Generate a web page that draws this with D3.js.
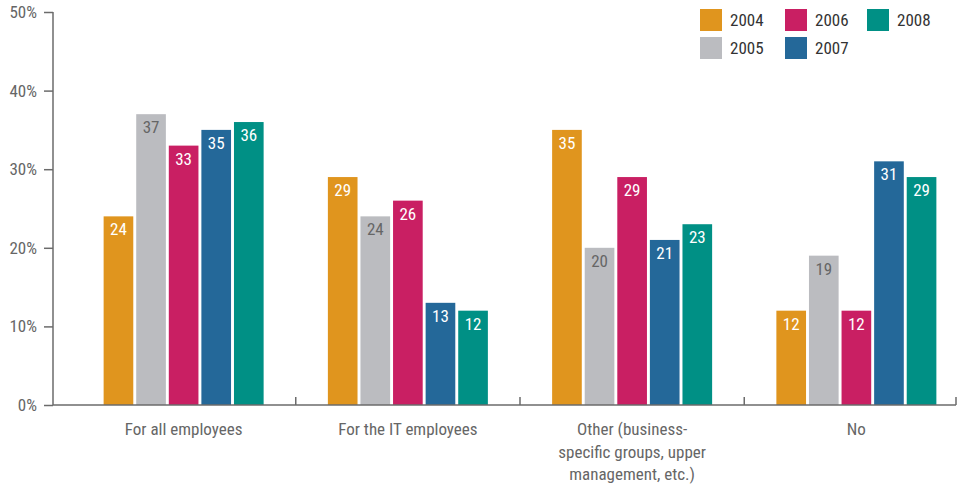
<!DOCTYPE html>
<html>
<head>
<meta charset="utf-8">
<script src="https://cdn.jsdelivr.net/npm/d3@7"></script>
<style>
  html, body { margin: 0; padding: 0; background: #fff; }
  svg text { font-family: "Liberation Sans Narrow", "Roboto Condensed", "Arial Narrow", "Liberation Sans", sans-serif; }
</style>
</head>
<body>
<svg id="chart" width="962" height="485"></svg>
<script>
// Categories (x groups) and years (series)
const categories = [
  ["For all employees"],
  ["For the IT employees"],
  ["Other (business-", "specific groups, upper", "management, etc.)"],
  ["No"]
];
const years = ["2004", "2005", "2006", "2007", "2008"];
const colors = ["#E0951E", "#BBBCC0", "#C91F63", "#246899", "#009085"];

// Percent values per year, one entry per category
const v2004 = [24, 29, 35, 12];
const v2005 = [37, 24, 20, 19];
const v2006 = [33, 26, 29, 12];
const v2007 = [35, 13, 21, 31];
const v2008 = [36, 12, 23, 29];
const series = [v2004, v2005, v2006, v2007, v2008];

const yTicks = [0, 10, 20, 30, 40, 50];

const svg = d3.select("#chart");
const axisColor = "#6b6b6b";
const textColor = "#666";

const y = d3.scaleLinear().domain([0, 50]).range([405, 12]);
const x0 = d3.scaleBand().domain(d3.range(categories.length)).range([71.5, 968.5]);
const x1 = d3.scaleBand().domain(years).range([0, 160]).paddingInner(0.09);

// Y axis
const yAxis = svg.append("g").attr("transform", "translate(53,0)")
  .call(d3.axisLeft(y).tickValues(yTicks).tickSize(9).tickPadding(7).tickFormat(d => d + "%"));
yAxis.select(".domain").attr("stroke", axisColor).attr("stroke-width", 1.5).attr("d", "M0,12V405");
yAxis.selectAll(".tick line").attr("stroke", axisColor).attr("stroke-width", 1.5);
yAxis.selectAll(".tick text").attr("fill", textColor).style("font-size", "17px").attr("dy", "0.32em");

// Bars
const groups = svg.append("g").selectAll("g").data(categories).join("g")
  .attr("transform", (d, i) => `translate(${x0(i) + x0.bandwidth() / 2 - 80},0)`);

groups.each(function (cat, ci) {
  const g = d3.select(this);
  years.forEach((yr, si) => {
    const val = series[si][ci];
    g.append("rect")
      .attr("x", x1(yr))
      .attr("y", y(val))
      .attr("width", x1.bandwidth())
      .attr("height", y(0) - y(val))
      .attr("fill", colors[si]);
    g.append("text")
      .attr("x", x1(yr) + x1.bandwidth() / 2)
      .attr("y", y(val) + 19)
      .attr("text-anchor", "middle")
      .attr("fill", si === 1 ? "#666" : "#fff")
      .style("font-size", "17px")
      .text(val);
  });
});

// X axis baseline with separators between groups
const xAxis = svg.append("g");
xAxis.append("line").attr("x1", 53).attr("x2", 956).attr("y1", 405).attr("y2", 405)
  .attr("stroke", axisColor).attr("stroke-width", 1.5);
const seps = d3.range(1, categories.length).map(i => x0(i)).concat([956]);
xAxis.selectAll("line.sep").data(seps).join("line").attr("class", "sep")
  .attr("x1", d => d).attr("x2", d => d).attr("y1", 397).attr("y2", 405)
  .attr("stroke", axisColor).attr("stroke-width", 1.5);

// Category labels
categories.forEach((lines, i) => {
  const t = svg.append("text")
    .attr("x", x0(i) + x0.bandwidth() / 2)
    .attr("y", 435)
    .attr("text-anchor", "middle")
    .attr("fill", textColor)
    .style("font-size", "17px");
  lines.forEach((ln, k) => {
    t.append("tspan").attr("x", x0(i) + x0.bandwidth() / 2).attr("dy", k === 0 ? 0 : 22.5).text(ln);
  });
});

// Legend
const legendPos = [[700, 9], [700, 37], [785, 9], [785, 37], [867, 9]];
const legend = svg.append("g");
years.forEach((yr, i) => {
  const [lx, ly] = legendPos[i];
  legend.append("rect").attr("x", lx).attr("y", ly).attr("width", 22).attr("height", 22).attr("fill", colors[i]);
  legend.append("text").attr("x", lx + 30).attr("y", ly + 17).attr("fill", "#333")
    .style("font-size", "17px").text(yr);
});
</script>
</body>
</html>
